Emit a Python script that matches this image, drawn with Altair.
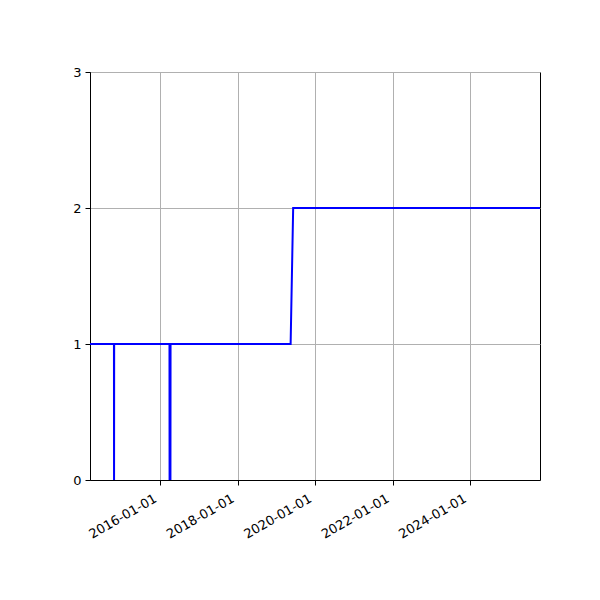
import altair as alt
import pandas as pd

dates = [
    "2014-03-09", "2014-10-21", "2014-10-22", "2014-10-23",
    "2016-03-28", "2016-03-29", "2016-04-06", "2016-04-07",
    "2019-05-15", "2019-06-08", "2025-10-23",
]
values = [1, 1, 0, 1, 1, 0, 0, 1, 1, 2, 2]
tick_years = [2016, 2018, 2020, 2022, 2024]
y_ticks = [0, 1, 2, 3]

df = pd.DataFrame({"date": dates, "value": values})

font = "DejaVu Sans"

chart = alt.Chart(df).mark_line(color="#0000ff", strokeWidth=2, clip=True).encode(
    x=alt.X(
        "date:T",
        scale=alt.Scale(
            type="utc",
            domain=[alt.DateTime(year=2014, month=3, date=9, utc=True),
                    alt.DateTime(year=2025, month=10, date=23, utc=True)],
            nice=False,
        ),
        axis=alt.Axis(
            title=None,
            values=[alt.DateTime(year=y, month=1, date=1, utc=True) for y in tick_years],
            labelExpr="utcFormat(datum.value, '%Y-%m-%d')",
            labelAngle=-30,
            labelAlign="right",
            labelBaseline="top",
            labelPadding=7,
            labelOffset=-8,
        ),
    ),
    y=alt.Y(
        "value:Q",
        scale=alt.Scale(domain=[0, 3], nice=False),
        axis=alt.Axis(title=None, values=y_ticks, format="d", labelPadding=4),
    ),
).properties(
    width=450,
    height=408,
    autosize=alt.AutoSizeParams(type="none"),
    padding={"left": 82, "top": 64, "right": 52, "bottom": 112},
).configure_view(
    stroke="black", strokeWidth=1
).configure_axis(
    grid=True,
    gridColor="#b0b0b0",
    gridWidth=1,
    domainColor="black",
    domainWidth=1,
    tickColor="black",
    tickSize=5,
    tickWidth=1,
    labelFont=font,
    labelFontSize=13,
    labelColor="black",
)

chart.save("out.html", embed_options={"renderer": "svg", "actions": False})
